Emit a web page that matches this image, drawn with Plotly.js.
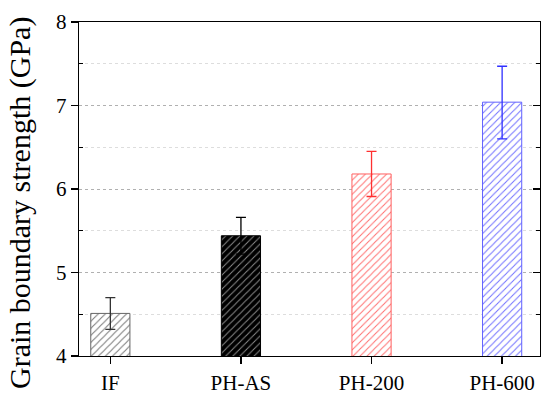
<!DOCTYPE html>
<html><head><meta charset="utf-8">
<script src="https://cdn.plot.ly/plotly-3.0.1.min.js"></script>
<style>html,body{margin:0;padding:0;background:#fff}</style>
</head><body><div id="chart" style="width:542px;height:398px"></div>
<script>
const categories = ["IF", "PH-AS", "PH-200", "PH-600"];
const strength = [4.51, 5.44, 6.18, 7.04];
const errPlus = [0.19, 0.22, 0.27, 0.43];
const errMinus = [0.19, 0.22, 0.27, 0.44];
const yTicks = [4, 5, 6, 7, 8];
const yMinorTicks = [4.5, 5.5, 6.5, 7.5];
const yTitle = "Grain boundary strength (GPa)";

const fg = ["#777777", "#8a8a8a", "#ff7070", "#7070ff"];
const bg = ["#ffffff", "#000000", "#ffffff", "#ffffff"];
const edge = ["#666666", "#000000", "#ff6060", "#6060ff"];
const errCol = ["#333333", "#000000", "#ff3030", "#3030ff"];

const traces = categories.map((c, i) => ({
  type: "bar", x: [c], y: [strength[i]], width: 0.3,
  marker: {color: bg[i], line: {color: edge[i], width: 1},
    pattern: {shape: "/", fgcolor: fg[i], bgcolor: bg[i], size: 5, solidity: 0.2}},
  error_y: {type: "data", array: [errPlus[i]], arrayminus: [errMinus[i]], color: errCol[i], thickness: 1.3, width: 5},
  showlegend: false, hoverinfo: "skip"
}));
traces.push({type: "scatter", x: [categories[0]], y: [4], yaxis: "y2", mode: "none", showlegend: false, hoverinfo: "skip"});

const font = {family: "Liberation Serif, Times New Roman, serif", color: "#000"};
Plotly.newPlot("chart", traces, {
  width: 542, height: 398,
  margin: {l: 79, r: 2, t: 22, b: 42},
  paper_bgcolor: "#fff", plot_bgcolor: "#fff",
  font: font,
  bargap: 0,
  xaxis: {type: "category", categoryarray: categories, range: [-0.24, 3.29],
    showline: true, linecolor: "#000", linewidth: 1.3, mirror: true,
    ticks: "outside", ticklen: 7, tickcolor: "#000", tickwidth: 1.3,
    tickfont: {family: font.family, size: 21}, showgrid: false, zeroline: false},
  yaxis: {range: [4, 8], tickvals: yTicks, ticktext: yTicks.map(String),
    showline: true, linecolor: "#000", linewidth: 1.3, mirror: true,
    ticks: "outside", ticklen: 7, tickcolor: "#000", tickwidth: 1.3,
    tickfont: {family: font.family, size: 21},
    showgrid: true, gridcolor: "#b0b0b0", griddash: "3px,3px", gridwidth: 1, zeroline: false,
    minor: {tickmode: "array", tickvals: yMinorTicks, ticks: "inside", ticklen: 4, tickcolor: "#000", showgrid: true, gridcolor: "#dddddd", griddash: "dot", gridwidth: 1}},
  yaxis2: {overlaying: "y", side: "right", range: [4, 8], tickvals: yTicks, showticklabels: false,
    ticks: "inside", ticklen: 7, tickcolor: "#000", tickwidth: 1.3, showgrid: false, zeroline: false,
    minor: {tickmode: "array", tickvals: yMinorTicks, ticks: "inside", ticklen: 4, tickcolor: "#000"}},
  annotations: [{text: yTitle, textangle: -90, xref: "paper", yref: "paper", x: -0.128, y: 0.458,
    xanchor: "center", yanchor: "middle", showarrow: false, font: {family: font.family, size: 30, color: "#000"}}]
}, {staticPlot: true});
</script></body></html>
